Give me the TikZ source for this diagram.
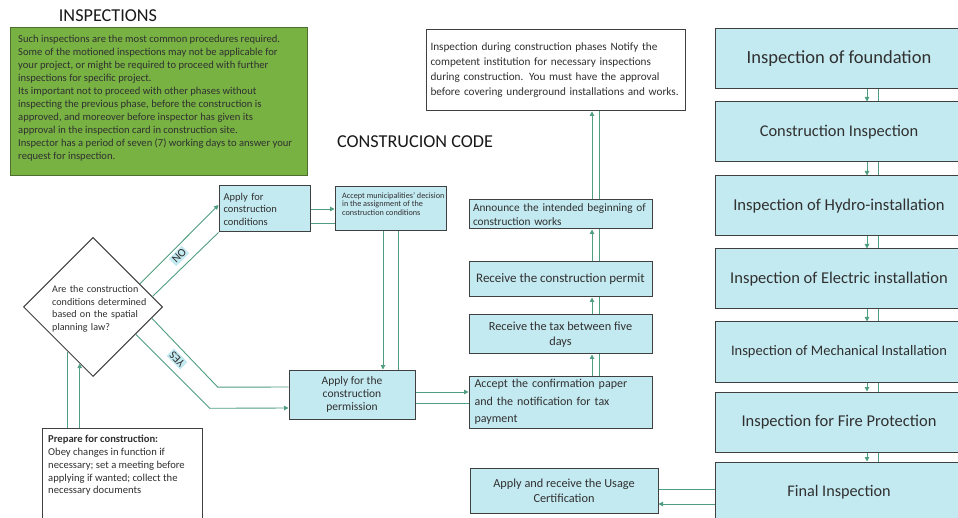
\documentclass[tikz,border=0pt]{standalone}
\usepackage{fontspec}
\setmainfont{Carlito}
\usetikzlibrary{shapes.geometric,calc,arrows.meta}
\definecolor{boxfill}{HTML}{C4EAF1}
\definecolor{boxline}{HTML}{404040}
\definecolor{conn}{HTML}{4F9E80}
\definecolor{greenfill}{HTML}{78B243}
\definecolor{greenline}{HTML}{4D6E2E}
\definecolor{txt}{HTML}{303030}
\newcommand{\fs}[2]{\fontsize{#1}{#2}\selectfont}
\begin{document}
\begin{tikzpicture}[x=1pt,y=-1pt,
  box/.style={draw=boxline, fill=boxfill, line width=1pt, inner sep=0pt, text=txt},
  wbox/.style={draw=boxline, fill=white, line width=1pt, inner sep=0pt, text=txt},
  rbox/.style={box, minimum width=248, minimum height=60},
  arr/.style={draw=conn, line width=0.9pt, -{Triangle[length=4.5pt,width=4.5pt]}},
  ln/.style={draw=conn, line width=0.9pt},
  lbl/.style={fill=boxfill, inner sep=1.5pt, text=txt, font=\fs{11.5}{13}}
]
\useasboundingbox (0,0) rectangle (958,518);
\clip (0,0) rectangle (958,518);
\fill[white] (0,0) rectangle (958,518);

% titles
\node[font=\fs{18.2}{20}, text=black!90] (ttl) at (108,16) {INSPECTIONS};
\node[font=\fs{18.2}{20}, text=black!90] (cc) at (415,142) {CONSTRUCION CODE};

% green info box
\node[draw=greenline, fill=greenfill, line width=1pt, minimum width=297, minimum height=148, inner sep=0pt] (gr) at (158.5,102) {};
\node[anchor=north west, inner sep=0pt, align=left, font=\fs{10.6}{13}, text=txt] (grt) at (18,34.5)
 {Such inspections are the most common procedures required.\\
  Some of the motioned inspections may not be applicable for\\
  your project, or might be required to proceed with further\\
  inspections for specific project.\\
  Its important not to proceed with other phases without\\
  inspecting the previous phase, before the construction is\\
  approved, and moreover before inspector has given its\\
  approval in the inspection card in construction site.\\
  Inspector has a period of seven (7) working days to answer your\\
  request for inspection.};

% note box
\node[wbox, minimum width=259, minimum height=81, text width=250, align=left, font=\fs{11.2}{15}] (note) at (555.5,70.5)
 {Inspection during construction phases Notify the\\
  competent institution for necessary inspections\\
  during construction. You must have the approval\\
  before covering underground installations and works.};

% right column
\node[rbox, font=\fs{18.5}{20}] (r1) at (839,59) {Inspection of foundation};
\node[rbox, font=\fs{16.4}{18}] (r2) at (839,132) {Construction Inspection};
\node[rbox, font=\fs{16.6}{18}] (r3) at (839,206) {Inspection of Hydro-installation};
\node[rbox, font=\fs{16.5}{18}] (r4) at (839,279) {Inspection of Electric installation};
\node[rbox, font=\fs{14.5}{18}] (r5) at (839,352) {Inspection of Mechanical Installation};
\node[rbox, font=\fs{16.5}{18}] (r6) at (839,422) {Inspection for Fire Protection};
\node[rbox, font=\fs{16.2}{18}] (r7) at (839,492) {Final Inspection};

% middle column
\node[box, minimum width=183, minimum height=29, text width=175, align=left, font=\fs{11.3}{14}] (ann) at (560.5,214.5)
 {Announce the intended beginning of\\construction works};
\node[box, minimum width=183, minimum height=35, align=center, font=\fs{13}{15}] (perm) at (560.5,279.5)
 {Receive the construction permit};
\node[box, minimum width=183, minimum height=39, align=center, font=\fs{12.3}{15}] (tax) at (560.5,334.5)
 {Receive the tax between five\\days};
\node[box, minimum width=183, minimum height=52, text width=172, align=left, font=\fs{12}{17.5}] (acc) at (560.5,402)
 {Accept the confirmation paper\\and the notification for tax\\payment};

% left part
\node[box, minimum width=91, minimum height=46, text width=82, align=left, font=\fs{10.5}{12.5}] (ac) at (264.5,209)
 {Apply for\\construction\\conditions};
\node[box, minimum width=111, minimum height=44] (am) at (390.5,209) {};
\node[anchor=north west, inner sep=0pt, align=left, font=\fs{8.2}{8.4}, text=txt] (amt) at (342,192.5)
 {Accept municipalities' decision\\in the assignment of the\\construction conditions};
\node[box, minimum width=126, minimum height=49, align=center, font=\fs{11.5}{13.3}] (ap) at (352,394.5)
 {Apply for the\\construction\\permission};

\node[draw=boxline, fill=white, line width=1pt, diamond, minimum width=139, minimum height=139, inner sep=0pt] (d) at (93,307) {};
\node[anchor=west, inner sep=0pt, text width=100, align=left, font=\fs{10.1}{12.5}, text=txt] (dt) at (52,309)
 {Are the construction\\conditions determined\\based on the spatial\\planning law?};

\node[wbox, minimum width=160, minimum height=92] (prep) at (122,474) {};
\node[anchor=north west, inner sep=0pt, align=left, font=\fs{10.6}{12.8}, text=txt] (prept) at (48,435)
 {\textbf{Prepare for construction:}\\Obey changes in function if\\necessary; set a meeting before\\applying if wanted; collect the\\necessary documents};

\node[box, minimum width=188, minimum height=45, align=center, font=\fs{12.3}{15}] (us) at (564,490.5)
 {Apply and receive the Usage\\Certification};

% right column connectors
\foreach \a/\b in {r1/r2,r2/r3,r3/r4,r4/r5,r5/r6,r6/r7}{
  \draw[arr] ([xshift=28pt]\a.south) -- ([xshift=28pt]\b.north);
  \draw[ln] ([xshift=39pt]\a.south) -- ([xshift=39pt]\b.north);
}
% middle column connectors
\foreach \a/\b in {acc/tax,tax/perm,perm/ann}{
  \draw[arr] ([xshift=31.5pt]\a.north) -- ([xshift=31.5pt]\b.south);
  \draw[ln] ([xshift=38.5pt]\a.north) -- ([xshift=38.5pt]\b.south);
}
\coordinate (m1) at ([xshift=31.5pt]ann.north);
\coordinate (m2) at ([xshift=38.5pt]ann.north);
\draw[arr] (m1) -- (m1 |- note.south);
\draw[ln] (m2) -- (m2 |- note.south);

% ac -> am
\draw[arr] (ac.east) -- (ac.east -| am.west);
\coordinate (c1) at ([yshift=-14pt]ac.east);
\draw[ln] (c1) -- (c1 -| am.west);
% am -> ap
\coordinate (c2) at ([xshift=-7.5pt]am.south);
\coordinate (c3) at ([xshift=7.5pt]am.south);
\draw[arr] (c2) -- (c2 |- ap.north);
\draw[ln] (c3) -- (c3 |- ap.north);
% ap -> acc
\coordinate (c4) at ([yshift=2.5pt]ap.east);
\coordinate (c5) at ([yshift=-8.5pt]ap.east);
\draw[arr] (c4) -- (c4 -| acc.west);
\draw[ln] (c5) -- (c5 -| acc.west);
% final -> usage
\coordinate (c6) at ([yshift=1.5pt]us.east);
\coordinate (c7) at ([yshift=-13.5pt]us.east);
\draw[ln] (c6) -- (c6 -| r7.west);
\draw[arr] (c7 -| r7.west) -- (c7);

% prepare -> diamond
\coordinate (p1) at ($(d.west)!0.64!(d.south)$);
\coordinate (p2) at ($(d.west)!0.81!(d.south)$);
\draw[ln] (p1 |- prep.north) -- (p1);
\draw[arr] (p2 |- prep.north) -- (p2);

% NO branch
\coordinate (n1) at ($(d.north)!0.67!(d.east)$);
\coordinate (n2) at ($(d.north)!0.85!(d.east)$);
\draw[arr] (n1) -- ([yshift=4pt]ac.west);
\draw[ln] (n2) -- (ac.south west);
\node[lbl, rotate=45] (no) at (179,256) {NO};

% YES branch
\coordinate (y1) at ($(d.east)!0.16!(d.south)$);
\coordinate (y2) at ($(d.east)!0.39!(d.south)$);
\draw[ln] (y1) -- ++(66,69) -- ([yshift=7.5pt]ap.west);
\draw[arr] (y2) -- ++(74,74) -- ([yshift=-13.5pt]ap.west);
\node[lbl, rotate=135] (yes) at (177,359) {YES};
\end{tikzpicture}
\end{document}
